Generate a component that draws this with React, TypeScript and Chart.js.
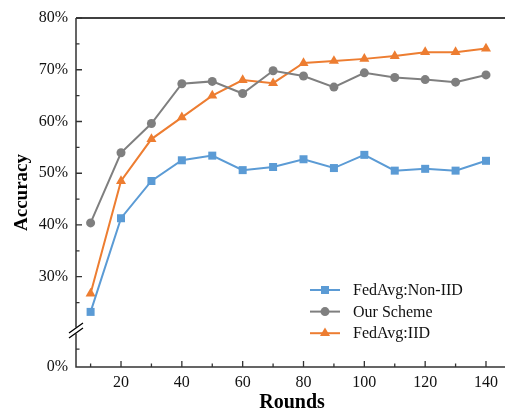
import React, { useEffect, useRef } from "react";
import { Chart, registerables } from "chart.js";

Chart.register(...registerables);

const rounds = [10, 20, 30, 40, 50, 60, 70, 80, 90, 100, 110, 120, 130, 140];
const nonIid = [23.2, 41.3, 48.5, 52.5, 53.4, 50.6, 51.2, 52.7, 51.0, 53.55, 50.5, 50.85, 50.5, 52.4];
const ourScheme = [40.4, 53.95, 59.6, 67.3, 67.75, 65.4, 69.8, 68.8, 66.65, 69.4, 68.5, 68.1, 67.6, 69.0];
const iid = [26.75, 48.5, 56.6, 60.8, 65.0, 68.0, 67.4, 71.3, 71.7, 72.1, 72.65, 73.4, 73.4, 74.1];

const seriesNames = ["FedAvg:Non-IID", "Our Scheme", "FedAvg:IID"];
const xTicks = [20, 40, 60, 80, 100, 120, 140];
const xMinorTicks = [10, 30, 50, 70, 90, 110, 130];
const yTicks = [30, 40, 50, 60, 70, 80];
const yMinorTicks = [25, 35, 45, 55, 65, 75, 16];
// the broken axis: the lowest point of the scale stands for 0%
const Y_ZERO = 12.55;
const Y_BREAK = 19.6;

const FONT = "'Liberation Serif', 'Times New Roman', serif";
const COLORS = ["#5B9BD5", "#7F7F7F", "#ED7D31"];
const STYLES = ["rect", "circle", "triangle"];

function drawMarker(ctx: CanvasRenderingContext2D, style: string, x: number, y: number, color: string) {
  ctx.save();
  ctx.fillStyle = color;
  ctx.beginPath();
  if (style === "rect") {
    ctx.rect(x - 4, y - 4, 8, 8);
  } else if (style === "circle") {
    ctx.arc(x, y, 4.5, 0, Math.PI * 2);
  } else {
    const r = 5.8;
    ctx.moveTo(x, y - r);
    ctx.lineTo(x + r * Math.sin((2 * Math.PI) / 3), y - r * Math.cos((2 * Math.PI) / 3));
    ctx.lineTo(x + r * Math.sin((4 * Math.PI) / 3), y - r * Math.cos((4 * Math.PI) / 3));
    ctx.closePath();
  }
  ctx.fill();
  ctx.restore();
}

const framePlugin = {
  id: "frame",
  beforeDatasetsDraw(chart: any) {
    const { ctx, chartArea, scales } = chart;
    const { left, right, top, bottom } = chartArea;
    ctx.save();
    // top border
    ctx.strokeStyle = "#000";
    ctx.lineWidth = 1.5;
    ctx.beginPath();
    ctx.moveTo(left, top);
    ctx.lineTo(right, top);
    ctx.stroke();
    // axes
    ctx.strokeStyle = "#333";
    ctx.beginPath();
    ctx.moveTo(left, top);
    ctx.lineTo(left, bottom);
    ctx.lineTo(right, bottom);
    ctx.stroke();
    // ticks
    ctx.lineWidth = 1.3;
    ctx.beginPath();
    xTicks.forEach((v) => {
      const px = scales.x.getPixelForValue(v);
      ctx.moveTo(px, bottom);
      ctx.lineTo(px, bottom - 6);
    });
    xMinorTicks.forEach((v) => {
      const px = scales.x.getPixelForValue(v);
      ctx.moveTo(px, bottom);
      ctx.lineTo(px, bottom - 3.5);
    });
    yTicks.forEach((v) => {
      const py = scales.y.getPixelForValue(v);
      ctx.moveTo(left, py);
      ctx.lineTo(left + 6, py);
    });
    yMinorTicks.forEach((v) => {
      const py = scales.y.getPixelForValue(v);
      ctx.moveTo(left, py);
      ctx.lineTo(left + 3.5, py);
    });
    ctx.stroke();
    ctx.restore();
  },
  afterDatasetsDraw(chart: any) {
    const { ctx, chartArea, scales } = chart;
    const { left } = chartArea;
    const py = scales.y.getPixelForValue(Y_BREAK);
    ctx.save();
    // gap in the axis
    ctx.fillStyle = "#fff";
    ctx.fillRect(left - 2, py - 3, 4, 6);
    ctx.strokeStyle = "#000";
    ctx.lineWidth = 1.3;
    ctx.beginPath();
    ctx.moveTo(left - 7, py + 2.5 + 5);
    ctx.lineTo(left + 7, py + 2.5 - 5);
    ctx.moveTo(left - 7, py - 2.5 + 5);
    ctx.lineTo(left + 7, py - 2.5 - 5);
    ctx.stroke();
    ctx.restore();
  },
  afterDraw(chart: any) {
    const { ctx } = chart;
    const x0 = 310;
    const y0 = 290;
    const rowH = 21.6;
    ctx.save();
    seriesNames.forEach((name, i) => {
      const y = y0 + i * rowH;
      ctx.strokeStyle = COLORS[i];
      ctx.lineWidth = 2;
      ctx.beginPath();
      ctx.moveTo(x0, y);
      ctx.lineTo(x0 + 30, y);
      ctx.stroke();
      drawMarker(ctx, STYLES[i], x0 + 15, y, COLORS[i]);
      ctx.fillStyle = "#111";
      ctx.font = `16px ${FONT}`;
      ctx.textBaseline = "middle";
      ctx.textAlign = "left";
      ctx.fillText(name, x0 + 43, y + 1);
    });
    ctx.restore();
  },
};

export default function App() {
  const ref = useRef<HTMLCanvasElement | null>(null);

  useEffect(() => {
    if (!ref.current) return;
    const makeData = (vals: number[]) => rounds.map((r, i) => ({ x: r, y: vals[i] }));
    const seriesValues = [nonIid, ourScheme, iid];
    const chart = new Chart(ref.current, {
      type: "line",
      data: {
        datasets: seriesValues.map((vals, i) => ({
          label: seriesNames[i],
          data: makeData(vals),
          borderColor: COLORS[i],
          backgroundColor: COLORS[i],
          borderWidth: 2,
          pointStyle: STYLES[i] as any,
          pointRadius: i === 0 ? 5.66 : i === 1 ? 4.5 : 5.8,
          pointBorderWidth: 0,
          pointBackgroundColor: COLORS[i],
          pointBorderColor: COLORS[i],
          tension: 0,
          clip: false as any,
        })),
      },
      options: {
        animation: false,
        responsive: false,
        devicePixelRatio: 1,
        layout: { padding: { top: 18, left: 0, right: 0, bottom: 0 } },
        plugins: {
          legend: { display: false },
          tooltip: { enabled: false },
        },
        scales: {
          x: {
            type: "linear",
            min: 5.2,
            max: 147.3,
            afterBuildTicks: (scale: any) => {
              scale.ticks = xTicks.map((v) => ({ value: v }));
            },
            afterFit: (scale: any) => {
              scale.height = 49;
            },
            grid: { display: false, drawTicks: false },
            border: { display: false },
            ticks: {
              padding: 6,
              color: "#111",
              font: { family: FONT, size: 16 },
              maxRotation: 0,
              callback: (v: any) => String(v),
            },
            title: {
              display: true,
              text: "Rounds",
              color: "#000",
              font: { family: FONT, size: 20, weight: "bold", lineHeight: 1.2 },
              padding: { top: 0, bottom: 1 },
            },
          },
          y: {
            type: "linear",
            min: Y_ZERO,
            max: 80,
            afterBuildTicks: (scale: any) => {
              scale.ticks = [Y_ZERO, ...yTicks].map((v) => ({ value: v }));
            },
            afterFit: (scale: any) => {
              scale.width = 76;
            },
            grid: { display: false, drawTicks: false },
            border: { display: false },
            ticks: {
              padding: 8,
              color: "#111",
              font: { family: FONT, size: 16 },
              callback: (v: any) => (v < 20 ? "0%" : `${Math.round(v)}%`),
            },
            title: {
              display: true,
              text: "Accuracy",
              color: "#000",
              font: { family: FONT, size: 19, weight: "bold", lineHeight: 1.2 },
              padding: { top: 10.5, bottom: 0 },
            },
          },
        },
      },
      plugins: [framePlugin],
    });
    return () => chart.destroy();
  }, []);

  return (
    <div
      style={{
        position: "fixed",
        left: 0,
        top: 0,
        width: 505,
        height: 416,
        overflow: "hidden",
        background: "#fff",
      }}
    >
      <canvas ref={ref} width={514} height={416} style={{ display: "block", width: 514, height: 416 }} />
    </div>
  );
}
